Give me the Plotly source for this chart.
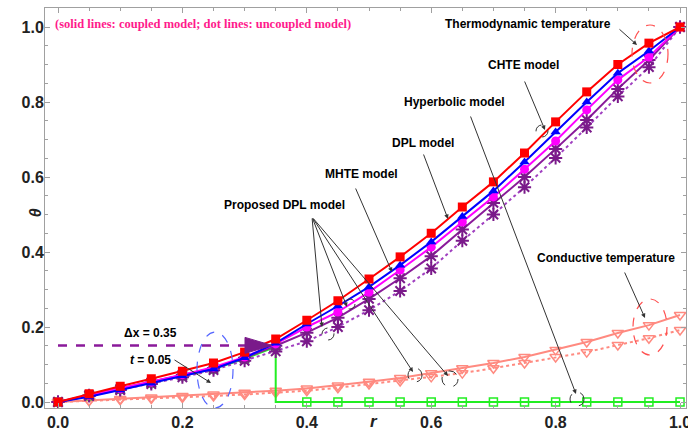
import plotly.graph_objects as go

# Radial positions and temperature profiles
r = [0.0, 0.05, 0.1, 0.15, 0.2, 0.25, 0.3, 0.35, 0.4, 0.45, 0.5,
     0.55, 0.6, 0.65, 0.7, 0.75, 0.8, 0.85, 0.9, 0.95, 1.0]

theta_red = [0, 0.022, 0.042, 0.062, 0.082, 0.104, 0.133, 0.168, 0.218, 0.27, 0.328,
             0.387, 0.45, 0.52, 0.587, 0.664, 0.747, 0.827, 0.9, 0.957, 1.0]
theta_blue = [0, 0.014, 0.032, 0.05, 0.07, 0.088, 0.118, 0.157, 0.208, 0.256, 0.307,
              0.365, 0.427, 0.495, 0.563, 0.64, 0.72, 0.80, 0.877, 0.936, 1.0]
theta_magenta = [0, 0.018, 0.035, 0.053, 0.073, 0.093, 0.12, 0.155, 0.2, 0.24, 0.293,
                 0.352, 0.413, 0.48, 0.547, 0.621, 0.696, 0.779, 0.859, 0.92, 1.0]
theta_purple = [0, 0.018, 0.034, 0.052, 0.072, 0.091, 0.118, 0.15, 0.185, 0.225, 0.275,
                0.33, 0.389, 0.46, 0.531, 0.6, 0.675, 0.752, 0.835, 0.912, 1.0]
theta_purple_unc = [0, 0.016, 0.032, 0.048, 0.066, 0.085, 0.11, 0.135, 0.162, 0.2, 0.245,
                    0.296, 0.356, 0.43, 0.50, 0.573, 0.651, 0.732, 0.815, 0.893, 1.0]

# Hyperbolic front: thermal profile up to the wave front, zero beyond
theta_green = [0, 0.017, 0.034, 0.051, 0.07, 0.088, 0.115, 0.147, 0, 0, 0,
               0, 0, 0, 0, 0, 0, 0, 0, 0, 0]
front_r = 0.35
front_theta = 0.147

# Conductive temperature (coupled / uncoupled)
cond_coupled = [0, 0.004, 0.008, 0.012, 0.016, 0.02, 0.025, 0.03, 0.036, 0.044, 0.054,
                0.064, 0.077, 0.09, 0.104, 0.12, 0.139, 0.16, 0.184, 0.205, 0.232]
cond_uncoupled = [0, 0.003, 0.006, 0.009, 0.012, 0.016, 0.02, 0.025, 0.03, 0.038, 0.048,
                  0.056, 0.067, 0.077, 0.09, 0.104, 0.12, 0.133, 0.152, 0.17, 0.192]

x_ticks = [0.0, 0.2, 0.4, 0.6, 0.8, 1.0]
y_ticks = [0.0, 0.2, 0.4, 0.6, 0.8, 1.0]

W, H = 688, 430
ML, MR, MT, MB = 45, 2, 8, 22
XR = [-0.0209, 1.0096]
YR = [-0.016, 1.0507]


def px2r(px):
    return XR[0] + (px - ML) / (W - ML - MR) * (XR[1] - XR[0])


def py2t(py):
    return YR[1] - (py - MT) / (H - MT - MB) * (YR[1] - YR[0])


fig = go.Figure()

salmon = "#FF8A80"
fig.add_trace(go.Scatter(x=r, y=cond_uncoupled, mode="lines+markers",
                         line=dict(color=salmon, width=2, dash="dot"),
                         marker=dict(symbol="triangle-down-open", size=10, color=salmon,
                                     line=dict(color=salmon, width=1.5))))
fig.add_trace(go.Scatter(x=r, y=cond_coupled, mode="lines+markers",
                         line=dict(color=salmon, width=2),
                         marker=dict(symbol="triangle-down-open", size=10, color=salmon,
                                     line=dict(color=salmon, width=1.5))))

# Green: line with vertical drop at the front, markers on the grid
green = "#22EE22"
gx = r[:8] + [front_r] + r[8:]
gy = theta_green[:8] + [0] + theta_green[8:]
fig.add_trace(go.Scatter(x=gx, y=gy, mode="lines",
                         line=dict(color=green, width=2)))
fig.add_trace(go.Scatter(x=r, y=theta_green, mode="markers",
                         marker=dict(symbol="square-open", size=8, color=green,
                                     line=dict(color=green, width=1.5))))

star_col = "#7A1A8A"
fig.add_trace(go.Scatter(x=r, y=theta_purple_unc, mode="lines+markers",
                         line=dict(color="#A040C0", width=2, dash="dot"),
                         marker=dict(symbol="asterisk-open", size=11, color=star_col,
                                     line=dict(color=star_col, width=2))))
fig.add_trace(go.Scatter(x=r, y=theta_purple, mode="lines+markers",
                         line=dict(color="#8A1A9A", width=2),
                         marker=dict(symbol="asterisk-open", size=11, color=star_col,
                                     line=dict(color=star_col, width=2))))
fig.add_trace(go.Scatter(x=r, y=theta_magenta, mode="lines+markers",
                         line=dict(color="#FF00FF", width=2),
                         marker=dict(symbol="circle", size=9, color="#FF00FF")))
fig.add_trace(go.Scatter(x=r, y=theta_blue, mode="lines+markers",
                         line=dict(color="#0000FF", width=2),
                         marker=dict(symbol="triangle-up", size=9, color="#0000FF")))
fig.add_trace(go.Scatter(x=r, y=theta_red, mode="lines+markers",
                         line=dict(color="#FF0000", width=2),
                         marker=dict(symbol="square", size=9, color="#FF0000")))

shapes = []
# Wave front distance marker: dashed line ending in a solid head
front_y = front_theta + 0.004
shapes.append(dict(type="line", xref="x", yref="y", x0=0, x1=px2r(246),
                   y0=front_y, y1=front_y,
                   line=dict(color="#8A1A9A", width=2.5, dash="dash")))
hy = 402 - front_y * 375
shapes.append(dict(type="path", xref="x", yref="y",
                   path=(f"M {px2r(245)} {py2t(hy - 8)} L {px2r(272)} {py2t(hy)} "
                         f"L {px2r(245)} {py2t(hy + 8)} Z"),
                   fillcolor="#7A1A8A", line=dict(color="#7A1A8A", width=1)))


def ellipse(cx, cy, rx, ry, color, width=1.2):
    shapes.append(dict(type="circle", xref="x", yref="y",
                       x0=px2r(cx - rx), x1=px2r(cx + rx),
                       y0=py2t(cy + ry), y1=py2t(cy - ry),
                       line=dict(color=color, width=width, dash="dash")))


ellipse(650, 54, 18, 29, "#FF5050")
ellipse(650, 327, 17, 28, "#FF5050")
ellipse(215, 370, 18, 38, "#5566FF")
for cx, cy, rr in [(328, 334, 6), (350, 304, 5), (542, 131, 6),
                   (415, 375, 7), (450, 379, 8), (577, 399, 7)]:
    ellipse(cx, cy, rr, rr, "#333333", 1)

annotations = []
lab_font = dict(family="Liberation Sans, Arial", size=12, color="black", weight="bold")


def label(text, cx, cy, **kw):
    annotations.append(dict(text=text, x=px2r(cx), y=py2t(cy), xref="x", yref="y",
                            showarrow=False, font=kw.pop("font", lab_font),
                            xanchor=kw.pop("xanchor", "center"), yanchor="middle", **kw))


def arrow(x0, y0, x1, y1, color="#333333", head=2, size=0.9):
    annotations.append(dict(text="", x=px2r(x1), y=py2t(y1), ax=px2r(x0), ay=py2t(y0),
                            xref="x", yref="y", axref="x", ayref="y", showarrow=True,
                            arrowhead=head, arrowsize=size, arrowwidth=1,
                            arrowcolor=color))


label("Thermodynamic temperature", 528, 24)
label("CHTE model", 523, 65)
label("Hyperbolic model", 454, 102)
label("DPL model", 423, 143)
label("MHTE model", 361, 174)
label("Proposed DPL model", 284, 205)
label("Conductive temperature", 606, 258)
label("Δx = 0.35", 150, 333)
label("<i>t</i> = 0.05", 150, 360)
label("(solid lines: coupled model; dot lines: uncoupled model)", 53, 24,
      font=dict(family="Liberation Serif, Times New Roman", size=12.5,
                color="#FF1A8C", weight="bold"),
      xanchor="left")

arrow(618, 28, 637, 45)
arrow(524, 80, 545, 130)
arrow(470, 115, 576, 394)
arrow(423, 153, 448, 219)
arrow(355, 187, 392, 272)
arrow(312, 217, 322, 327)
arrow(312, 217, 347, 307)
arrow(312, 217, 413, 372)
arrow(312, 217, 448, 376)
arrow(624, 271, 645, 318)
arrow(173, 359, 211, 383)

axis_font = dict(family="Liberation Sans, Arial", size=16, color="#222222", weight="bold")
annotations.append(dict(text="<i>r</i>", x=px2r(374), y=-0.035, xref="x", yref="paper",
                        showarrow=False, yanchor="middle",
                        font=dict(family="Liberation Sans, Arial", size=17,
                                  color="#222222", weight="bold")))
annotations.append(dict(text="<i>θ</i>", x=-0.03, y=0.4875, xref="paper", yref="paper",
                        showarrow=False, textangle=-90,
                        font=dict(family="Liberation Sans, Arial", size=16,
                                  color="#222222", weight="bold")))

axis_common = dict(showline=True, linecolor="#A0A0A0", linewidth=1, mirror="ticks",
                   ticks="inside", ticklen=5, tickcolor="#A0A0A0", showgrid=False,
                   zeroline=False, tickfont=axis_font, ticklabeloverflow="allow",
                   automargin=False,
                   minor=dict(ticks="inside", ticklen=3, tickcolor="#A0A0A0",
                              dtick=0.05, showgrid=False))

fig.update_layout(
    width=W, height=H,
    margin=dict(l=ML, r=MR, t=MT, b=MB),
    paper_bgcolor="white", plot_bgcolor="white",
    showlegend=False,
    xaxis=dict(range=XR, tickvals=x_ticks, ticktext=[f"{v:.1f}" for v in x_ticks],
               **axis_common),
    yaxis=dict(range=YR, tickvals=y_ticks, ticktext=[f"{v:.1f}" for v in y_ticks],
               ticklabelstandoff=-3, **axis_common),
    shapes=shapes,
    annotations=annotations,
)

fig.write_html("out.html")
